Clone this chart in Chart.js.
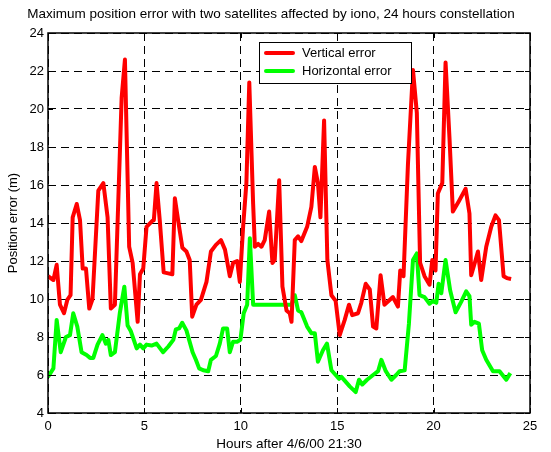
<!DOCTYPE html>
<html>
<head>
<meta charset="utf-8">
<script src="https://cdn.jsdelivr.net/npm/chart.js@4/dist/chart.umd.min.js"></script>
<style>
  body { margin: 0; background: #fff; }
  canvas { display: block; }
</style>
</head>
<body>
<canvas id="myChart" width="551" height="452"></canvas>
<script>
(function () {
  'use strict';

  // vertical error (m) vs hours
  var vertHours = [0, 0.28, 0.45, 0.62, 0.83, 1.0, 1.17, 1.28, 1.49, 1.66, 1.8, 1.97, 2.14, 2.31, 2.61, 2.87, 3.09, 3.26, 3.47, 3.82, 3.99,
    4.21, 4.39, 4.65, 4.77, 4.94, 5.11, 5.4, 5.49, 5.63, 5.8, 6.0, 6.24, 6.45, 6.58, 6.8, 6.97, 7.18, 7.35, 7.48, 7.7, 7.93,
    8.22, 8.45, 8.71, 8.97, 9.18, 9.43, 9.6, 9.81, 9.95, 10.12, 10.29, 10.44, 10.64, 10.73, 10.9, 11.07, 11.24, 11.47, 11.64, 11.76,
    11.99, 12.16, 12.37, 12.54, 12.63, 12.8, 12.97, 13.14, 13.44, 13.66, 13.84, 14.0, 14.13, 14.32, 14.49, 14.7, 14.92,
    15.13, 15.39, 15.61, 15.78, 16.08, 16.25, 16.48, 16.69, 16.86, 17.03, 17.25, 17.45, 17.62, 17.89, 18.15, 18.27, 18.44,
    18.67, 18.93, 19.13, 19.3, 19.53, 19.79, 19.93, 20.1, 20.22, 20.45, 20.62, 20.83, 21.0, 21.31, 21.66, 21.86, 21.95,
    22.18, 22.3, 22.47, 22.73, 22.99, 23.21, 23.39, 23.63, 23.8, 24.02];
  var vertErr = [11.2, 11.0, 11.8, 9.7, 9.25, 9.95, 10.2, 14.3, 15.0, 14.15, 11.6, 11.6, 9.5, 10.0, 15.7, 16.1, 14.3, 9.5, 9.7, 20.6, 22.6,
    12.75, 11.9, 8.8, 11.3, 11.6, 13.8, 14.1, 14.15, 16.1, 14.1, 11.4, 11.35, 11.3, 15.3, 13.8, 12.7, 12.5, 12.05, 9.07, 9.7, 9.95,
    10.9, 12.5, 12.85, 13.1, 12.6, 11.2, 11.9, 12.0, 10.9, 13.8, 16.1, 21.4, 15.0, 12.75, 12.9, 12.75, 13.1, 14.6, 11.9, 12.05,
    16.25, 10.65, 9.4, 9.25, 8.8, 13.1, 13.3, 13.05, 13.8, 14.85, 16.95, 16.1, 14.3, 19.4, 12.05, 10.2, 9.9,
    8.1, 8.9, 9.7, 9.15, 9.25, 9.8, 10.8, 10.5, 8.55, 8.45, 11.25, 9.7, 9.85, 10.1, 9.6, 11.5, 11.2,
    17.1, 22.05, 19.8, 11.9, 11.2, 10.75, 12.05, 11.5, 15.55, 16.1, 22.45, 18.35, 14.6, 15.15, 15.8, 14.5, 11.25,
    12.05, 12.5, 11.0, 12.75, 13.8, 14.4, 14.15, 11.2, 11.1, 11.05];

  // horizontal error (m) vs hours
  var horizHours = [0, 0.28, 0.45, 0.66, 0.93, 1.14, 1.31, 1.52, 1.74, 2.0, 2.18, 2.35, 2.57, 2.82, 3.0, 3.13, 3.26, 3.47, 3.73, 3.96,
    4.13, 4.3, 4.6, 4.77, 4.94, 5.11, 5.37, 5.63, 5.97, 6.24, 6.5, 6.63, 6.8, 6.96, 7.18, 7.5, 7.67, 7.84, 8.05, 8.31, 8.45,
    8.71, 8.91, 9.08, 9.29, 9.43, 9.6, 9.81, 9.98, 10.15, 10.33, 10.47, 10.64, 12.63, 12.8, 12.97, 13.14, 13.44, 13.66, 13.84,
    14.0, 14.26, 14.47, 14.7, 14.92, 15.1, 15.22, 15.48, 15.65, 15.96, 16.13, 16.3, 16.55, 16.86, 17.12, 17.29, 17.52, 17.81,
    18.06, 18.24, 18.5, 18.72, 18.93, 19.13, 19.27, 19.53, 19.79, 19.96, 20.14, 20.26, 20.4, 20.62, 20.86, 21.14, 21.43,
    21.69, 21.86, 21.95, 22.12, 22.35, 22.52, 22.73, 23.08, 23.42, 23.77, 23.98];
  var horizErr = [5.9, 6.35, 8.9, 7.2, 8.0, 8.1, 9.25, 8.55, 7.2, 7.05, 6.9, 6.9, 7.6, 8.1, 7.65, 7.85, 7.05, 7.2, 9.3, 10.65,
    8.6, 8.3, 7.4, 7.6, 7.4, 7.6, 7.55, 7.65, 7.2, 7.5, 7.85, 8.4, 8.45, 8.75, 8.35, 7.2, 6.8, 6.35, 6.25, 6.2, 6.8,
    7.0, 7.65, 8.45, 8.45, 7.2, 7.75, 7.75, 7.85, 9.25, 9.7, 13.2, 9.7, 9.7, 10.2, 9.4, 9.3, 8.55, 8.2, 8.2,
    6.7, 7.3, 7.65, 6.25, 6.0, 5.8, 5.9, 5.6, 5.4, 5.1, 5.75, 5.5, 5.75, 6.0, 6.2, 6.8, 6.2, 5.75,
    6.0, 6.2, 6.25, 8.7, 12.05, 12.4, 10.2, 10.1, 9.75, 9.9, 9.8, 10.8, 10.3, 12.05, 10.45, 9.3, 9.85,
    10.4, 10.15, 8.65, 8.8, 8.7, 7.3, 6.8, 6.2, 6.2, 5.75, 6.1];

  var xTicks = [0, 5, 10, 15, 20, 25];
  var yTicks = [4, 6, 8, 10, 12, 14, 16, 18, 20, 22, 24];

  var FONT = 'Arial, "Liberation Sans", sans-serif';

  function toPoints(xs, ys) {
    return xs.map(function (x, i) { return { x: x, y: ys[i] }; });
  }

  // MATLAB-style box with inward ticks, plus legend inside the axes
  var axesBox = {
    id: 'axesBox',
    afterDatasetsDraw: function (chart) {
      var c = chart.ctx, a = chart.chartArea;
      var xs = chart.scales.x, ys = chart.scales.y;
      var tick = 5;
      c.save();
      c.strokeStyle = '#000';
      c.lineWidth = 1.5;
      c.setLineDash([]);
      c.strokeRect(a.left, a.top, a.right - a.left, a.bottom - a.top);
      c.lineWidth = 1;
      c.beginPath();
      xTicks.forEach(function (v) {
        var px = Math.round(xs.getPixelForValue(v)) + 0.5;
        c.moveTo(px, a.bottom); c.lineTo(px, a.bottom - tick);
        c.moveTo(px, a.top); c.lineTo(px, a.top + tick);
      });
      yTicks.forEach(function (v) {
        var py = Math.round(ys.getPixelForValue(v)) + 0.5;
        c.moveTo(a.left, py); c.lineTo(a.left + tick, py);
        c.moveTo(a.right, py); c.lineTo(a.right - tick, py);
      });
      c.stroke();

      // legend
      var lx = 259, ly = 42, lw = 152, lh = 41;
      c.fillStyle = '#fff';
      c.fillRect(lx, ly, lw, lh);
      c.strokeStyle = '#000';
      c.lineWidth = 1;
      c.strokeRect(lx + 0.5, ly + 0.5, lw, lh);
      c.font = '13px ' + FONT;
      c.textBaseline = 'middle';
      c.textAlign = 'left';
      chart.data.datasets.forEach(function (ds, i) {
        var yy = ly + 11 + i * 18;
        c.strokeStyle = ds.borderColor;
        c.lineWidth = 4;
        c.lineCap = 'round';
        c.beginPath();
        c.moveTo(lx + 7, yy); c.lineTo(lx + 34, yy);
        c.stroke();
        c.fillStyle = '#000';
        c.fillText(ds.label, lx + 43, yy);
      });
      c.restore();
    }
  };

  var ctx = document.getElementById('myChart').getContext('2d');
  var chart = new Chart(ctx, {
    type: 'line',
    data: {
      datasets: [
        {
          label: 'Vertical error',
          borderColor: '#ff0000',
          borderWidth: 4,
          pointRadius: 0,
          tension: 0,
          borderJoinStyle: 'round',
          data: toPoints(vertHours, vertErr),
        },
        {
          label: 'Horizontal error',
          borderColor: '#00ff00',
          borderWidth: 4,
          pointRadius: 0,
          tension: 0,
          borderJoinStyle: 'round',
          data: toPoints(horizHours, horizErr),
        },
      ],
    },
    options: {
      responsive: false,
      animation: false,
      layout: { padding: { left: 12, right: 21, top: 0, bottom: 0 } },
      plugins: {
        legend: { display: false },
        tooltip: { enabled: false },
        title: {
          display: true,
          text: 'Maximum position error with two satellites affected by iono, 24 hours constellation',
          color: '#000',
          font: { family: FONT, size: 13.5, weight: 'normal' },
          padding: { top: 6.4, bottom: 10.4 },
        },
      },
      scales: {
        x: {
          type: 'linear',
          min: 0,
          max: 25,
          afterFit: function (s) { s.height = 39; },
          afterBuildTicks: function (s) { s.ticks = xTicks.map(function (v) { return { value: v }; }); },
          ticks: { color: '#000', font: { family: FONT, size: 13 }, padding: 6, maxRotation: 0 },
          grid: { color: '#000', lineWidth: 1, drawTicks: false },
          border: { display: false, dash: [8, 5] },
          title: {
            display: true,
            text: 'Hours after 4/6/00 21:30',
            color: '#000',
            font: { family: FONT, size: 13.5 },
            padding: { top: 0, bottom: 0 },
          },
        },
        y: {
          min: 4,
          max: 24,
          afterFit: function (s) { s.width = 36; },
          afterBuildTicks: function (s) { s.ticks = yTicks.map(function (v) { return { value: v }; }); },
          ticks: { color: '#000', font: { family: FONT, size: 13 }, padding: 4 },
          grid: { color: '#000', lineWidth: 1, drawTicks: false },
          border: { display: false, dash: [8, 5] },
          title: {
            display: true,
            text: 'Position error (m)',
            color: '#000',
            font: { family: FONT, size: 13 },
            padding: { top: -6.8, bottom: 0 },
          },
        },
      },
    },
    plugins: [axesBox],
  });
})();
</script>
</body>
</html>
